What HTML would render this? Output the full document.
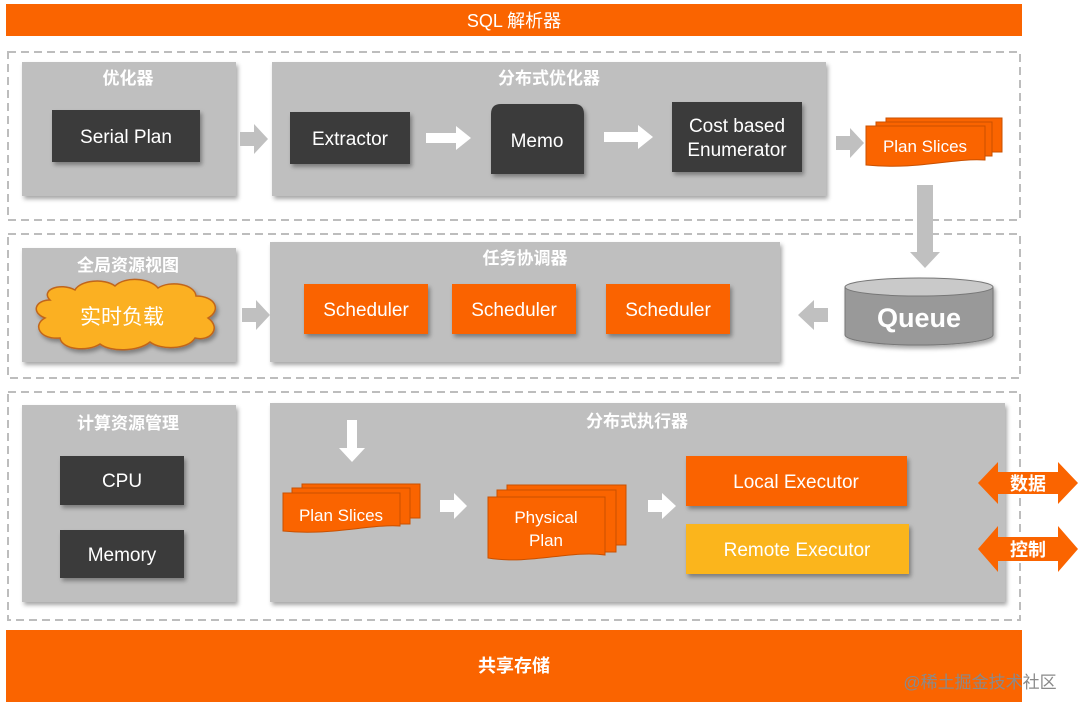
<!DOCTYPE html>
<html><head><meta charset="utf-8"><style>
body{margin:0;width:1080px;height:712px;background:#fff;overflow:hidden}
svg text{font-family:"Liberation Sans","Noto Sans CJK SC",sans-serif}
</style></head><body>
<svg width="1080" height="712" viewBox="0 0 1080 712" xmlns="http://www.w3.org/2000/svg">
<defs>
<filter id="sh" x="-10%" y="-10%" width="130%" height="140%"><feDropShadow dx="2" dy="3" stdDeviation="2" flood-color="#000" flood-opacity="0.35"/></filter>
</defs>
<!-- top bar -->
<rect x="6" y="4" width="1016" height="32" fill="#fa6400"/>
<text x="514" y="27" font-size="18" fill="#fff" text-anchor="middle">SQL 解析器</text>
<!-- dashed regions -->
<g fill="none" stroke="#bdbdbd" stroke-width="2" stroke-dasharray="8,5">
<rect x="8" y="52" width="1012" height="168"/>
<rect x="8" y="234" width="1012" height="144"/>
<rect x="8" y="392" width="1012" height="228"/>
</g>
<!-- gray panels -->
<g fill="#bfbfbf" filter="url(#sh)">
<rect x="22" y="62" width="214" height="134"/>
<rect x="272" y="62" width="554" height="134"/>
<rect x="22" y="248" width="214" height="114"/>
<rect x="270" y="242" width="510" height="120"/>
<rect x="22" y="405" width="214" height="197"/>
<rect x="270" y="403" width="735" height="199"/>
</g>
<g fill="#fff" font-size="17" font-weight="bold" text-anchor="middle">
<text x="128" y="84">优化器</text>
<text x="549" y="84">分布式优化器</text>
<text x="128" y="271">全局资源视图</text>
<text x="525" y="264">任务协调器</text>
<text x="128" y="429">计算资源管理</text>
<text x="637" y="427">分布式执行器</text>
</g>
<!-- dark boxes -->
<g fill="#3a3a3a" filter="url(#sh)">
<rect x="52" y="110" width="148" height="52"/>
<rect x="290" y="112" width="120" height="52"/>
<path d="M491 174 V114 Q491 104 501 104 H574 Q584 104 584 114 V174 Z"/>
<rect x="672" y="102" width="130" height="70"/>
<rect x="60" y="456" width="124" height="49"/>
<rect x="60" y="530" width="124" height="48"/>
</g>
<g fill="#fff" font-size="19" text-anchor="middle">
<text x="126" y="143">Serial Plan</text>
<text x="350" y="145">Extractor</text>
<text x="537" y="147">Memo</text>
<text x="737" y="132">Cost based</text>
<text x="737" y="156">Enumerator</text>
<text x="122" y="487">CPU</text>
<text x="122" y="561">Memory</text>
</g>
<!-- white arrows -->
<g fill="#fff">
<path d="M426 133 H456 V126 L471 138 L456 150 V143 H426 Z"/>
<path d="M604 132 H638 V125 L653 137 L638 149 V142 H604 Z"/>
<path d="M347 420 H357 V448 H365 L352 462 L339 448 H347 Z"/>
<path d="M440 500 H454 V493 L467 506 L454 519 V512 H440 Z"/>
<path d="M648 500 H662 V493 L676 506 L662 519 V512 H648 Z"/>
</g>
<!-- gray arrows -->
<g fill="#c0c0c0">
<path d="M240 132 H254 V124 L268 139 L254 154 V146 H240 Z"/>
<path d="M836 136 H850 V128 L864 143 L850 158 V150 H836 Z"/>
<path d="M242 308 H256 V300 L270 315 L256 330 V322 H242 Z"/>
<path d="M828 308 H814 V300 L798 315 L814 330 V322 H828 Z"/>
<path d="M917 185 H933 V252 H940 L925 268 L910 252 H917 Z"/>
</g>
<!-- Plan Slices top -->
<g fill="#fa6400" stroke="#c95000" stroke-width="1">
<rect x="886" y="118" width="116" height="34"/>
<rect x="876" y="122" width="116" height="34"/>
<path d="M866 126 H985 V160 C950 158 920 170 866 165 Z"/>
</g>
<text x="925" y="152" font-size="17" fill="#fff" text-anchor="middle">Plan Slices</text>
<!-- Queue -->
<g filter="url(#sh)">
<path d="M845 287 V335 A74 10 0 0 0 993 335 V287 Z" fill="#999" stroke="#777"/>
<ellipse cx="919" cy="287" rx="74" ry="9" fill="#c9c9c9" stroke="#777"/>
</g>
<text x="919" y="327" font-size="27" font-weight="bold" fill="#fff" text-anchor="middle">Queue</text>
<!-- cloud -->
<g filter="url(#sh)">
<path d="M50 300 C40 290 60 282 75 290 C80 280 105 278 115 286 C125 276 150 278 158 288 C170 280 195 284 196 296 C215 296 222 310 208 318 C222 328 210 342 195 338 C188 350 160 350 150 342 C138 352 110 352 100 344 C88 352 62 350 60 338 C40 340 32 325 45 318 C30 312 36 300 50 300 Z" fill="#fbb020" stroke="#c0651a" stroke-width="1.5"/>
</g>
<text x="122" y="324" font-size="21" fill="#fff" text-anchor="middle">实时负载</text>
<!-- schedulers -->
<g fill="#fa6400" filter="url(#sh)">
<rect x="304" y="284" width="124" height="50"/>
<rect x="452" y="284" width="124" height="50"/>
<rect x="606" y="284" width="124" height="50"/>
<rect x="686" y="456" width="221" height="50"/>
<rect x="686" y="524" width="223" height="50" fill="#fbb51a"/>
</g>
<g fill="#fff" font-size="19" text-anchor="middle">
<text x="366" y="316">Scheduler</text>
<text x="514" y="316">Scheduler</text>
<text x="668" y="316">Scheduler</text>
<text x="796" y="488">Local Executor</text>
<text x="797" y="556">Remote Executor</text>
</g>
<!-- Plan Slices bottom -->
<g fill="#fa6400" stroke="#c95000" stroke-width="1">
<rect x="302" y="484" width="118" height="34"/>
<rect x="292" y="488" width="118" height="36"/>
<path d="M283 493 H400 V526 C370 524 330 536 283 531 Z"/>
</g>
<text x="341" y="521" font-size="17" fill="#fff" text-anchor="middle">Plan Slices</text>
<!-- Physical Plan -->
<g fill="#fa6400" stroke="#c95000" stroke-width="1">
<rect x="507" y="485" width="119" height="60"/>
<rect x="497" y="490" width="119" height="62"/>
<path d="M488 497 H605 V555 C570 550 530 565 488 558 Z"/>
</g>
<text x="546" y="523" font-size="17" fill="#fff" text-anchor="middle">Physical</text>
<text x="546" y="546" font-size="17" fill="#fff" text-anchor="middle">Plan</text>
<!-- double arrows -->
<g fill="#fa6400">
<path d="M978 483 L998 462 V472 H1058 V462 L1078 483 L1058 504 V494 H998 V504 Z"/>
<path d="M978 549 L998 526 V537 H1058 V526 L1078 549 L1058 572 V561 H998 V572 Z"/>
</g>
<g fill="#fff" font-size="18" font-weight="bold" text-anchor="middle">
<text x="1028" y="490">数据</text>
<text x="1028" y="556">控制</text>
</g>
<!-- bottom bar -->
<rect x="6" y="630" width="1016" height="72" fill="#fa6400"/>
<text x="514" y="672" font-size="18" font-weight="bold" fill="#fff" text-anchor="middle">共享存储</text>
<text x="980" y="688" font-size="17" fill="#8a8a8a" text-anchor="middle">@稀土掘金技术社区</text>
</svg>
</body></html>
